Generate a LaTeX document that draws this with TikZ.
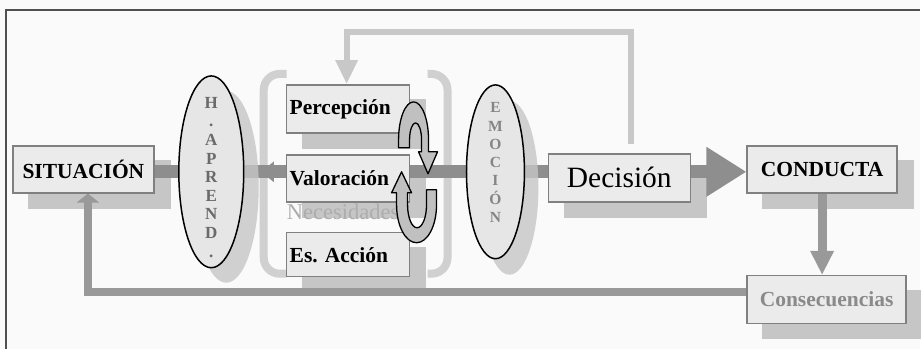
\documentclass[tikz,border=0pt]{standalone}
\usepackage{fontspec}
\setmainfont{Liberation Serif}
\usetikzlibrary{arrows.meta,shapes.geometric}
\pgfdeclarelayer{bg}\pgfdeclarelayer{mid}\pgfsetlayers{bg,mid,main}
\definecolor{bgc}{HTML}{FAFAFA}
\definecolor{framec}{HTML}{505050}
\definecolor{boxfill}{HTML}{EBEBEB}
\definecolor{boxline}{HTML}{808080}
\definecolor{shadowc}{HTML}{C6C6C6}
\definecolor{barc}{HTML}{8E8E8E}
\definecolor{fbone}{HTML}{C8C8C8}
\definecolor{fbtwo}{HTML}{999999}
\definecolor{brkc}{HTML}{D0D0D0}
\definecolor{ellfill}{HTML}{E6E6E6}
\definecolor{curvc}{HTML}{C0C0C0}
\definecolor{necc}{HTML}{ADADAD}
\definecolor{consc}{HTML}{8A8A8A}
\definecolor{hapc}{HTML}{6A6A6A}
\definecolor{emoc}{HTML}{858585}
\begin{document}
\begin{tikzpicture}[x=1pt,y=-1pt,
  box/.style={draw=boxline,line width=1.5pt,fill=boxfill,inner sep=0pt},
  lbox/.style={box,text width=117pt,inner xsep=3pt,align=left,minimum height=#1},
  bfont/.style={font=\fontsize{21.5}{24}\selectfont\bfseries},
  ell/.style={ellipse,draw=black,line width=1.5pt,fill=ellfill,inner sep=0pt},
  hapl/.style={font=\fontsize{17}{18}\selectfont\bfseries,text=hapc,inner sep=0pt,text height=11pt,text depth=0pt},
  emol/.style={font=\fontsize{15.5}{16}\selectfont\bfseries,text=emoc,inner sep=0pt,text height=10pt,text depth=0pt},
  curv/.style={draw=black,line width=1.3pt,fill=curvc,line join=round},
  brk/.style={draw=brkc,line width=8pt,rounded corners=16pt},
]
\begin{pgfonlayer}{bg}
\fill[bgc] (0,0) rectangle (921,349);
\draw[framec,line width=2pt] (6,349) -- (6,10) -- (921,10);
\end{pgfonlayer}
\useasboundingbox (0,0) rectangle (921,349);

% nodes
\node[box,bfont,minimum width=141pt,minimum height=47pt] (sit) at (83.5,169.5) {SITUACIÓN};
\node[ell,minimum width=65pt,minimum height=192pt] (hap) at (211.5,172) {};
\foreach \l [count=\i] in {H,.,A,P,R,E,N,D,.}
  \node[hapl] (hl\i) at (211.5,{103+18.6*(\i-1)}) {\l};
\node[lbox=48pt,bfont] (per) at (348.5,109) {Percepción};
\node[lbox=47pt,bfont] (val) at (348.5,178.5) {Valoración};
\node[anchor=base west,inner sep=0pt,font=\fontsize{22.5}{26}\selectfont,text=necc] (nec) at (287,220) {Necesidades};
\node[lbox=44pt,bfont] (esa) at (348.5,255) {Es.\ Acción};
\node[ell,minimum width=58pt,minimum height=174pt] (emo) at (496,172) {};
\foreach \l [count=\i] in {E,M,O,C,I,Ó,N}
  \node[emol] (el\i) at (496,{108+18.3*(\i-1)}) {\l};
\node[box,font=\fontsize{29.5}{32}\selectfont,minimum width=142pt,minimum height=48pt] (dec) at (620,178) {Decisión};
\node[box,bfont,minimum width=150pt,minimum height=47pt] (cond) at (823,169.5) {CONDUCTA};
\node[box,bfont,text=consc,minimum width=159pt,minimum height=48pt] (cons) at (827.5,300) {Consecuencias};
\coordinate (by) at (0,172);

% curved arrows
\draw[curv] (399,148) -- (399,140) arc[start angle=180,end angle=0,x radius=15pt,y radius=38pt]
  -- (429,152) -- (438,152) -- (428.5,174) -- (419,152) -- (422,152) -- (422,140)
  arc[start angle=0,end angle=180,x radius=6pt,y radius=17pt] -- (410,148) -- cycle;
\draw[curv] (437,190) -- (437,205) arc[start angle=0,end angle=-180,x radius=20pt,y radius=38pt]
  -- (397,193) -- (392,193) -- (402,172) -- (412,193) -- (408,193) -- (408,205)
  arc[start angle=180,end angle=360,x radius=9.5pt,y radius=23pt] -- (427,190) -- cycle;

\begin{pgfonlayer}{bg}
\foreach \n in {sit,per,val,esa,dec,cond,cons}
  \fill[shadowc] ([shift={(16pt,-15pt)}]\n.south west) rectangle ([shift={(16pt,-15pt)}]\n.north east);
\draw[brk] (287,74) -- (264,74) -- (264,274) -- (287,274);
\draw[brk] (428,74) -- (448,74) -- (448,274) -- (428,274);
\draw[fbone,line width=6pt,-{Triangle[width=21pt,length=24pt]}]
  ([xshift=12pt,yshift=9pt]dec.north) -- ++(0,-112) -| ([xshift=-1.5pt]per.north);
\end{pgfonlayer}

\begin{pgfonlayer}{mid}
\draw[barc,line width=13pt] (sit.east|-by) -- (dec.west|-by);
\draw[barc,line width=13pt,-{Triangle[width=47pt,length=40pt]}] (dec.east|-by) -- (cond.west|-by);
\draw[barc,line width=11pt,-{Triangle[width=20pt,length=13pt]}] (val.west|-by) -- ++(-25,0);
\draw[fbtwo,line width=8pt,-{Triangle[width=22pt,length=9pt]}] ([yshift=8pt]cons.west) -| ([xshift=4.5pt]sit.south);
\draw[fbtwo,line width=9pt,-{Triangle[width=22pt,length=24pt]}] (cond.south) -- (cond.south|-cons.north);
\fill[shadowc,opacity=0.8] ([shift={(15pt,-15pt)}]hap.center) ellipse [x radius=32.5pt,y radius=96pt];
\fill[shadowc,opacity=0.8] ([shift={(14pt,-16pt)}]emo.center) ellipse [x radius=29pt,y radius=87pt];
\end{pgfonlayer}
\end{tikzpicture}
\end{document}
